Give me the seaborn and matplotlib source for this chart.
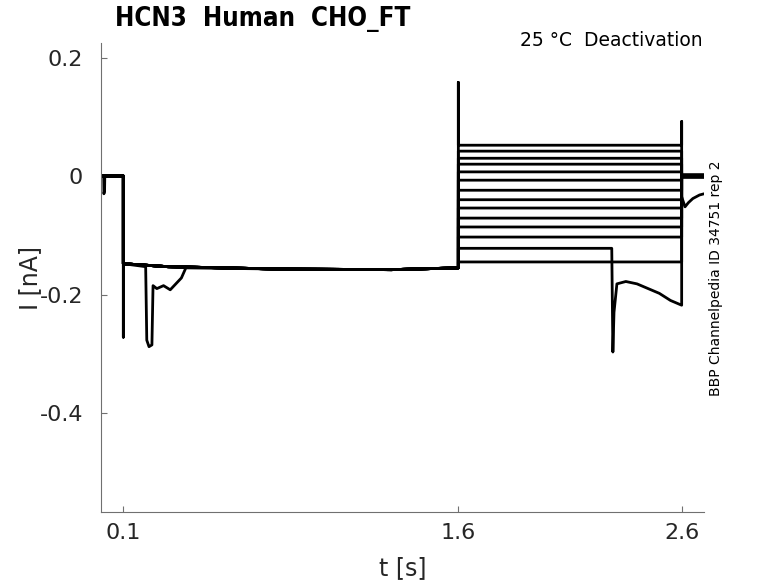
import numpy as np
import pandas as pd
import matplotlib
matplotlib.use('Agg')
import matplotlib.pyplot as plt
import seaborn as sns

sns.set_theme(style='ticks')
plt.rcParams['font.family'] = ['DejaVu Sans']

# protocol times [s]
t_start, t_on, t_step, t_off, t_end = 0.0, 0.1, 1.6, 2.6, 2.7

# current levels [nA]
pre_level = 0.0
hold_t = [0.1, 0.3, 0.8, 1.3, 1.6]
hold_I = [-0.148, -0.153, -0.157, -0.158, -0.155]
step_levels = [0.052, 0.042, 0.030, 0.020, 0.007, -0.007, -0.024,
               -0.040, -0.054, -0.071, -0.086, -0.103, -0.122, -0.145]
tail_levels = [0.002, 0.0, -0.002, 0.001, 0.0, -0.001, 0.002,
               0.0, -0.002, 0.001, 0.0, -0.001, -0.035, 0.0]

# capacitive spikes (sweep 0) and small pre-pulse dip (sweep 1)
onset_spike = -0.272
step_spike = 0.158
tail_spike = 0.092
pre_dip_t = [0.012, 0.013, 0.016, 0.017]
pre_dip_I = [0.0, -0.030, -0.025, 0.0]

# artefact during holding (sweep 13)
early_t = [0.2, 0.205, 0.215, 0.228, 0.233, 0.25, 0.28, 0.31, 0.34, 0.36, 0.38]
early_I = [-0.153, -0.277, -0.288, -0.285, -0.185, -0.19, -0.185, -0.192, -0.18, -0.172, -0.155]

# artefact during test step (sweep 12)
late_t = [2.287, 2.292, 2.297, 2.31, 2.35, 2.40, 2.45, 2.50, 2.55, 2.60]
late_I = [-0.122, -0.297, -0.230, -0.182, -0.178, -0.182, -0.190, -0.198, -0.210, -0.218]
late_tail_t = [2.6, 2.615, 2.63, 2.65, 2.68, 2.7]
late_tail_I = [-0.035, -0.052, -0.045, -0.038, -0.032, -0.030]

rows = []
for k, lev in enumerate(step_levels):
    t = [t_start]
    I = [pre_level]
    if k == 1:
        t += pre_dip_t
        I += pre_dip_I
    t += [t_on]
    I += [pre_level]
    if k == 0:
        t += [t_on]
        I += [onset_spike]
    if k == 13:
        t += [hold_t[0]] + early_t + hold_t[2:]
        I += [hold_I[0]] + early_I + hold_I[2:]
    else:
        t += hold_t
        I += hold_I
    if k == 0:
        t += [t_step]
        I += [step_spike]
    if k == 12:
        t += [t_step] + late_t + late_tail_t
        I += [lev] + late_I + late_tail_I
    else:
        t += [t_step, t_off]
        I += [lev, lev]
        if k == 0:
            t += [t_off]
            I += [tail_spike]
        t += [t_off, t_end]
        I += [tail_levels[k], tail_levels[k]]
    for a, b in zip(t, I):
        rows.append({'sweep': k, 't': a, 'I': b})

df = pd.DataFrame(rows)

fig = plt.figure(figsize=(7.78, 5.83), dpi=100)
ax = fig.add_axes([101 / 778, 1 - 512 / 583, (704 - 101) / 778, (512 - 43) / 583])

sns.lineplot(data=df, x='t', y='I', units='sweep', estimator=None, sort=False,
             color='black', lw=2.0, legend=False, ax=ax)

ax.set_xlim(0, 2.7)
ax.set_ylim(-0.567, 0.2245)
ax.set_xticks([0.1, 1.6, 2.6])
ax.set_xticklabels(['0.1', '1.6', '2.6'])
ax.set_yticks([-0.4, -0.2, 0, 0.2])
ax.set_yticklabels(['-0.4', '-0.2', '0', '0.2'])
ax.tick_params(direction='in', length=4, width=0.8, color='#707070',
               labelsize=16, labelcolor='#262626')
ax.tick_params(axis='x', pad=8)
ax.tick_params(axis='y', pad=13)
for s in ['top', 'right']:
    ax.spines[s].set_visible(False)
for s in ['left', 'bottom']:
    ax.spines[s].set_color('#707070')
    ax.spines[s].set_linewidth(0.8)

ax.set_xlabel('t [s]', fontsize=17, color='#262626')
ax.set_ylabel('I [nA]', fontsize=17, color='#262626')
ax.xaxis.set_label_coords(0.5, -0.094)
ax.yaxis.set_label_coords(-0.098, 0.5)

fig.text(115 / 778, 1 - 19 / 583, 'HCN3  Human  CHO_FT', fontsize=18.5,
         fontweight='bold', fontstretch='condensed', ha='left', va='center',
         color='black')
fig.text(703 / 778, 1 - 40 / 583, '25 °C  Deactivation', fontsize=13.5,
         ha='right', va='center', color='black')
fig.text(716 / 778, 1 - 278 / 583, 'BBP Channelpedia ID 34751 rep 2',
         fontsize=10, rotation=90, ha='center', va='center', color='black')

fig.savefig('out.png', dpi=100)
